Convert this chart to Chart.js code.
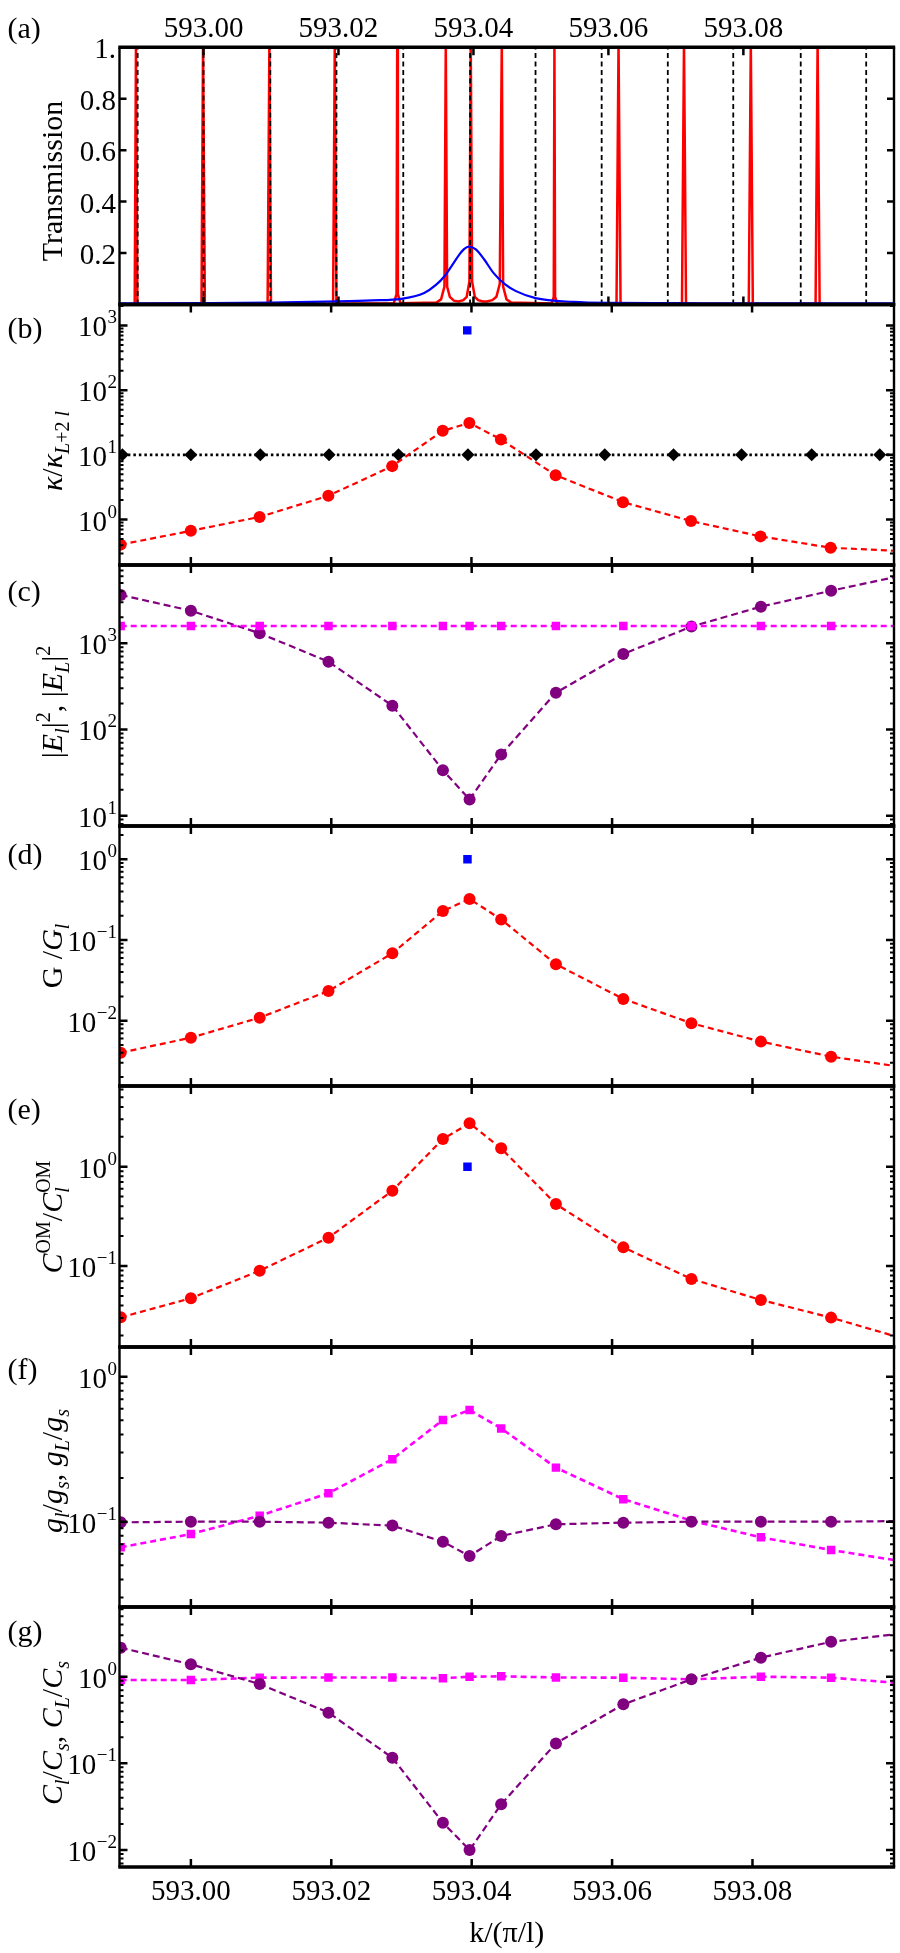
<!DOCTYPE html>
<html><head><meta charset="utf-8">
<script src="https://cdn.jsdelivr.net/npm/chart.js@4.4.1/dist/chart.umd.min.js"></script>
<style>
html,body{margin:0;padding:0;background:#fff;}
#wrap{position:relative;width:900px;height:1953px;overflow:hidden;background:#fff}
#wrap canvas{position:absolute;left:0;top:0}
</style></head><body><div id="wrap"></div>
<script>
// ---------------- DATA ----------------
// x positions (k/(pi/l)) of the resonances (last one lies just beyond the right edge)
const kRes = [592.9900, 593.0000, 593.0098, 593.0196, 593.0287, 593.0359, 593.0397, 593.0442, 593.0520, 593.0616, 593.0713, 593.0812, 593.0912, 593.1012];
// black reference comb (diamonds / dashed lines)
const kComb = [592.99024, 593.0000, 593.0099, 593.0197, 593.0296, 593.0395, 593.0492, 593.0590, 593.0688, 593.0785, 593.0885, 593.0982, 593.1080];
const combVal = [10, 10, 10, 10, 10, 10, 10, 10, 10, 10, 10, 10, 10];
const kBlue = [593.0394];

// (a) transmission
const blueK = [592.9875, 593.0000, 593.0100, 593.0200, 593.0250, 593.0293, 593.0327, 593.0344, 593.0357, 593.0369, 593.0378, 593.0386, 593.0393, 593.0403, 593.0416, 593.0429, 593.0446, 593.0463, 593.0492, 593.0548, 593.0599, 593.0700, 593.0800, 593.1023];
const blueT = [0.004, 0.005, 0.007, 0.012, 0.016, 0.022, 0.045, 0.075, 0.11, 0.155, 0.19, 0.215, 0.225, 0.215, 0.175, 0.125, 0.08, 0.052, 0.025, 0.01, 0.006, 0.005, 0.004, 0.004];
const redCurve = [
 [592.9875,0],[592.9898,0.002],[592.98999,1.02],[592.9902,0.002],
 [592.9997,0.002],[592.99993,1.02],[593.0002,0.002],
 [593.0095,0.002],[593.00976,1.02],[593.0100,0.002],
 [593.0192,0.003],[593.01945,1.02],[593.0197,0.003],
 [593.0282,0.005],[593.0286,0.04],[593.0287,1.02],[593.0288,0.04],[593.0292,0.005],
 [593.0345,0.008],[593.0352,0.02],[593.0357,0.07],[593.0359,1.02],[593.0361,0.07],[593.0365,0.03],[593.0371,0.015],[593.0378,0.012],[593.0385,0.017],[593.0390,0.03],[593.0394,0.09],[593.0396,1.02],[593.0398,0.09],[593.0402,0.03],[593.0407,0.017],[593.0414,0.012],[593.0420,0.012],[593.0428,0.017],[593.0434,0.03],[593.0439,0.08],[593.0442,1.02],[593.0444,0.07],[593.0449,0.02],[593.0456,0.008],
 [593.0516,0.004],[593.0519,0.03],[593.0520,1.02],[593.0521,0.03],[593.0524,0.004],
 [593.0612,0.002],[593.0615,1.02],[593.0618,0.002],
 [593.0709,0.002],[593.0712,1.02],[593.0715,0.002],
 [593.0808,0.002],[593.0811,1.02],[593.0814,0.002],
 [593.0907,0.002],[593.0910,1.02],[593.0913,0.002],
 [593.1023,0]
];
const combLineTop = 1.0;

// (b) kappa / kappa_{L+2l}
const kappaRatio = [0.41, 0.67, 1.10, 2.33, 6.7, 23.5, 31.2, 17.3, 4.86, 1.86, 0.95, 0.55, 0.367, 0.326];
const kappaBlue = [840];
// (c) |E_l|^2 , |E_L|^2
const El2 = [3630, 2390, 1306, 612, 189, 33.7, 15.4, 51.3, 267, 752, 1560, 2660, 4070, 6080];
const EL2 = [1585, 1585, 1585, 1585, 1585, 1585, 1585, 1585, 1585, 1585, 1585, 1585, 1585, 1585];
// (d) G/G_l
const Gratio = [0.00401, 0.00615, 0.0109, 0.0233, 0.0684, 0.229, 0.322, 0.18, 0.05, 0.0186, 0.0093, 0.0055, 0.00358, 0.00267];
const Gblue = [1.0];
// (e) C^OM / C_l^OM
const COMratio = [0.0304, 0.0473, 0.0897, 0.193, 0.573, 1.9, 2.74, 1.53, 0.42, 0.154, 0.074, 0.0455, 0.0302, 0.0188];
const COMblue = [1.0];
// (f) g_l/g_s , g_L/g_s
const glgs = [0.099, 0.1, 0.1, 0.0985, 0.094, 0.0728, 0.058, 0.0797, 0.096, 0.0985, 0.1, 0.1, 0.1, 0.101];
const gLgs = [0.0666, 0.0822, 0.11, 0.157, 0.27, 0.503, 0.589, 0.44, 0.236, 0.143, 0.1016, 0.078, 0.0638, 0.0534];
// (g) C_l/C_s , C_L/C_s
const ClCs = [2.16, 1.39, 0.824, 0.385, 0.116, 0.0207, 0.01, 0.0337, 0.17, 0.48, 0.933, 1.66, 2.53, 3.15];
const CLCs = [0.916, 0.916, 0.975, 0.98, 0.98, 0.96, 1.0, 1.01, 0.98, 0.975, 0.933, 1.0, 0.975, 0.84];

// ticks
const xTickVals = [593.00, 593.02, 593.04, 593.06, 593.08];
const xTickLabels = ['593.00', '593.02', '593.04', '593.06', '593.08'];
const aYTicks = [0.2, 0.4, 0.6, 0.8, 1.0];
const aYLabels = ['0.2', '0.4', '0.6', '0.8', '1.'];
const bExps = [0, 1, 2, 3];
const cExps = [1, 2, 3];
const dExps = [-2, -1, 0];
const eExps = [-1, 0];
const fExps = [-1, 0];
const gExps = [-2, -1, 0];

// ---------------- STYLE ----------------
const SERIF = "'Liberation Serif','Times New Roman',Times,serif";
const FS = 29, TS = 30, SS = 20;
const RED = '#ff0000', PURPLE = '#800080', MAG = '#ff00ff', BLUE = '#0000ff';
const L = 119.5, R = 894, W = 900, H = 1953;
const XR = [592.98983, 593.10016];
const XRA = [592.98755, 593.10232];

const N = t => ({t});
const I = t => ({t, it: 1});
const Sb = t => ({t, sz: SS, dy: 7});
const SbI = t => ({t, it: 1, sz: SS, dy: 7});
const Sp = t => ({t, sz: SS, dy: -12});

const panels = [
  {T: 47.3, B: 304.5, xr: XRA, ytype: 'linear', yr: [0, 1], letter: '(a)', ly: 38, tcy: 181, top: true,
   title: [N('Transmission')]},
  {T: 304.5, B: 565, xr: XR, ytype: 'logarithmic', yr: [0.1986, 2109], exps: bExps, letter: '(b)', ly: 338, tcy: 451,
   title: [I('κ'), N('/'), I('κ'), SbI('L'), Sb('+2 '), SbI('l')]},
  {T: 565, B: 826, xr: XR, ytype: 'logarithmic', yr: [7.59, 8090], exps: cExps, letter: '(c)', ly: 601, tcy: 702,
   title: [N('|'), I('E'), SbI('l'), N('|'), Sp('2'), N(', |'), I('E'), SbI('L'), N('|'), Sp('2')]},
  {T: 826, B: 1086, xr: XR, ytype: 'logarithmic', yr: [0.00155, 2.586], exps: dExps, letter: '(d)', ly: 864, tcy: 956,
   title: [N('G /'), I('G'), SbI('l')]},
  {T: 1086, B: 1347, xr: XR, ytype: 'logarithmic', yr: [0.01528, 6.497], exps: eExps, letter: '(e)', ly: 1119, tcy: 1217,
   title: [I('C'), Sp('OM'), N('/'), I('C'), {t: 'l', it: 1, sz: SS, dy: 7, sup: 'OM'}]},
  {T: 1347, B: 1607, xr: XR, ytype: 'logarithmic', yr: [0.02581, 1.602], exps: fExps, letter: '(f)', ly: 1379, tcy: 1471,
   title: [I('g'), SbI('l'), N('/'), I('g'), SbI('s'), N(', '), I('g'), SbI('L'), N('/'), I('g'), SbI('s')]},
  {T: 1607, B: 1867, xr: XR, ytype: 'logarithmic', yr: [0.00637, 6.374], exps: gExps, letter: '(g)', ly: 1641, tcy: 1733, bottom: true,
   title: [I('C'), SbI('l'), N('/'), I('C'), SbI('s'), N(', '), I('C'), SbI('L'), N('/'), I('C'), SbI('s')]}
];

function pts(xs, ys) { return xs.map((x, i) => ({x, y: ys[i]})); }
function ser(xs, ys, color, extra) {
  return Object.assign({
    data: pts(xs, ys), borderColor: color, backgroundColor: color,
    pointBackgroundColor: color, pointBorderWidth: 0, borderWidth: 2.2,
    borderDash: [6, 4], pointRadius: 6, pointHoverRadius: 6, pointStyle: 'circle', tension: 0
  }, extra || {});
}
function blueSq(ys) {
  return ser(kBlue, ys, BLUE, {showLine: false, pointStyle: 'rect', pointRadius: 6, order: 0});
}

// panel (a) datasets
const combLines = [];
kComb.slice(0, 12).forEach(k => { combLines.push({x: k, y: 0}, {x: k, y: combLineTop}, {x: k, y: null}); });
panels[0].datasets = [
  {data: pts(blueK, blueT), borderColor: BLUE, borderWidth: 2.2, pointRadius: 0, cubicInterpolationMode: 'monotone', order: 0},
  {data: combLines, borderColor: '#000', borderWidth: 1.8, borderDash: [5, 3.5], pointRadius: 0, spanGaps: false, order: 1},
  {data: redCurve.map(p => ({x: p[0], y: p[1]})), borderColor: RED, borderWidth: 2.5, pointRadius: 0, tension: 0, order: 2}
];
panels[1].datasets = [
  blueSq(kappaBlue),
  ser(kRes, kappaRatio, RED, {order: 1}),
  ser(kComb, combVal, '#000', {order: 2, borderDash: [2.5, 3], borderWidth: 2.6, pointStyle: 'rectRot', pointRadius: 6.5})
];
panels[2].datasets = [
  ser(kRes, EL2, MAG, {order: 0, pointStyle: 'rect', pointRadius: 6, borderWidth: 2.6}),
  ser(kRes, El2, PURPLE, {order: 1, borderDash: [7, 4]})
];
panels[3].datasets = [blueSq(Gblue), ser(kRes, Gratio, RED, {order: 1})];
panels[4].datasets = [blueSq(COMblue), ser(kRes, COMratio, RED, {order: 1})];
panels[5].datasets = [
  ser(kRes, glgs, PURPLE, {order: 0, borderDash: [7, 4]}),
  ser(kRes, gLgs, MAG, {order: 1, pointStyle: 'rect', pointRadius: 6, borderWidth: 2.6})
];
panels[6].datasets = [
  ser(kRes, ClCs, PURPLE, {order: 0, borderDash: [7, 4]}),
  ser(kRes, CLCs, MAG, {order: 1, pointStyle: 'rect', pointRadius: 6, borderWidth: 2.6})
];

// ---------------- DRAW HELPERS ----------------
function fontOf(s) { return (s.it ? 'italic ' : '') + (s.sz || TS) + 'px ' + SERIF; }
function richWidth(ctx, segs) {
  let w = 0;
  for (const s of segs) {
    ctx.font = fontOf(s);
    let sw = ctx.measureText(s.t).width;
    if (s.sup) { ctx.font = SS + 'px ' + SERIF; sw = Math.max(sw, ctx.measureText(s.sup).width); }
    w += sw;
  }
  return w;
}
function drawRich(ctx, segs, x, y) {
  let cx = x;
  ctx.textAlign = 'left'; ctx.textBaseline = 'alphabetic';
  for (const s of segs) {
    ctx.font = fontOf(s);
    ctx.fillText(s.t, cx, y + (s.dy || 0));
    let sw = ctx.measureText(s.t).width;
    if (s.sup) {
      ctx.font = SS + 'px ' + SERIF;
      ctx.fillText(s.sup, cx, y - 12);
      sw = Math.max(sw, ctx.measureText(s.sup).width);
    }
    cx += sw;
  }
}
function powLabel(ctx, exp, xr, y) {
  const e = exp < 0 ? '\u2212' + (-exp) : String(exp);
  ctx.textAlign = 'left'; ctx.textBaseline = 'alphabetic';
  ctx.font = '19px ' + SERIF;
  const we = ctx.measureText(e).width;
  ctx.fillText(e, xr - we, y - 2);
  ctx.font = FS + 'px ' + SERIF;
  const wb = ctx.measureText('10').width;
  ctx.fillText('10', xr - we - wb - 0.5, y + 11);
}

function makeDeco(p) {
  return {
    id: 'deco',
    afterDraw(chart) {
      const ctx = chart.ctx, xs = chart.scales.x, ys = chart.scales.y;
      const T = p.T, B = p.B;
      ctx.save();
      ctx.fillStyle = '#000'; ctx.strokeStyle = '#000';
      // frame
      ctx.lineWidth = 3.5;
      ctx.beginPath();
      ctx.moveTo(L - 1.2, T); ctx.lineTo(R + 1.2, T);
      ctx.moveTo(L - 1.2, B); ctx.lineTo(R + 1.2, B);
      ctx.stroke();
      ctx.lineWidth = 2.4;
      ctx.beginPath();
      ctx.moveTo(L, T); ctx.lineTo(L, B);
      ctx.moveTo(R, T); ctx.lineTo(R, B);
      ctx.stroke();
      // x ticks (inward, top and bottom)
      ctx.lineWidth = 2.5;
      ctx.beginPath();
      for (const v of xTickVals) {
        const px = xs.getPixelForValue(v);
        ctx.moveTo(px, B); ctx.lineTo(px, B - 8);
        ctx.moveTo(px, T); ctx.lineTo(px, T + 8);
      }
      ctx.stroke();
      // y ticks
      if (p.ytype === 'linear') {
        ctx.beginPath();
        for (const v of aYTicks) {
          const py = ys.getPixelForValue(v);
          ctx.moveTo(L, py); ctx.lineTo(L + 7, py);
          ctx.moveTo(R, py); ctx.lineTo(R - 7, py);
        }
        ctx.stroke();
        aYTicks.forEach((v, i) => {
          const py = ys.getPixelForValue(v);
          ctx.font = FS + 'px ' + SERIF; ctx.textAlign = 'right'; ctx.textBaseline = 'alphabetic';
          ctx.fillText(aYLabels[i], 116, py + 11);
        });
      } else {
        const lo = Math.floor(Math.log10(p.yr[0])), hi = Math.ceil(Math.log10(p.yr[1]));
        ctx.lineWidth = 2;
        ctx.beginPath();
        for (let n = lo; n <= hi; n++) {
          for (let m = 2; m <= 9; m++) {
            const v = m * Math.pow(10, n);
            if (v <= p.yr[0] || v >= p.yr[1]) continue;
            const py = ys.getPixelForValue(v);
            ctx.moveTo(L, py); ctx.lineTo(L + 4, py);
            ctx.moveTo(R, py); ctx.lineTo(R - 4, py);
          }
        }
        ctx.stroke();
        ctx.lineWidth = 2.5;
        ctx.beginPath();
        for (const e of p.exps) {
          const py = ys.getPixelForValue(Math.pow(10, e));
          ctx.moveTo(L, py); ctx.lineTo(L + 8, py);
          ctx.moveTo(R, py); ctx.lineTo(R - 8, py);
        }
        ctx.stroke();
        for (const e of p.exps) powLabel(ctx, e, 117, ys.getPixelForValue(Math.pow(10, e)));
      }
      // x tick labels
      ctx.font = FS + 'px ' + SERIF; ctx.textAlign = 'center'; ctx.textBaseline = 'alphabetic';
      if (p.top) xTickVals.forEach((v, i) => ctx.fillText(xTickLabels[i], xs.getPixelForValue(v), 36.5));
      if (p.bottom) {
        xTickVals.forEach((v, i) => ctx.fillText(xTickLabels[i], xs.getPixelForValue(v), 1900));
        ctx.font = TS + 'px ' + SERIF;
        ctx.fillText('k/(\u03c0/l)', (L + R) / 2, 1942);
      }
      // panel letter
      ctx.font = TS + 'px ' + SERIF; ctx.textAlign = 'left';
      ctx.fillText(p.letter, 7.5, p.ly);
      // y title (rotated)
      ctx.translate(62, p.tcy);
      ctx.rotate(-Math.PI / 2);
      const tw = richWidth(ctx, p.title);
      drawRich(ctx, p.title, -tw / 2, 0);
      ctx.restore();
    }
  };
}

const wrap = document.getElementById('wrap');
panels.forEach(p => {
  const c = document.createElement('canvas');
  c.width = W; c.height = H; c.style.width = W + 'px'; c.style.height = H + 'px';
  wrap.appendChild(c);
  new Chart(c.getContext('2d'), {
    type: 'line',
    data: {datasets: p.datasets},
    options: {
      responsive: false, animation: false, devicePixelRatio: 1,
      layout: {padding: {left: L, right: W - R, top: p.T, bottom: H - p.B}},
      plugins: {legend: {display: false}, tooltip: {enabled: false}},
      events: [],
      scales: {
        x: {type: 'linear', min: p.xr[0], max: p.xr[1], display: false},
        y: {type: p.ytype, min: p.yr[0], max: p.yr[1], display: false}
      }
    },
    plugins: [makeDeco(p)]
  });
});
</script></body></html>
